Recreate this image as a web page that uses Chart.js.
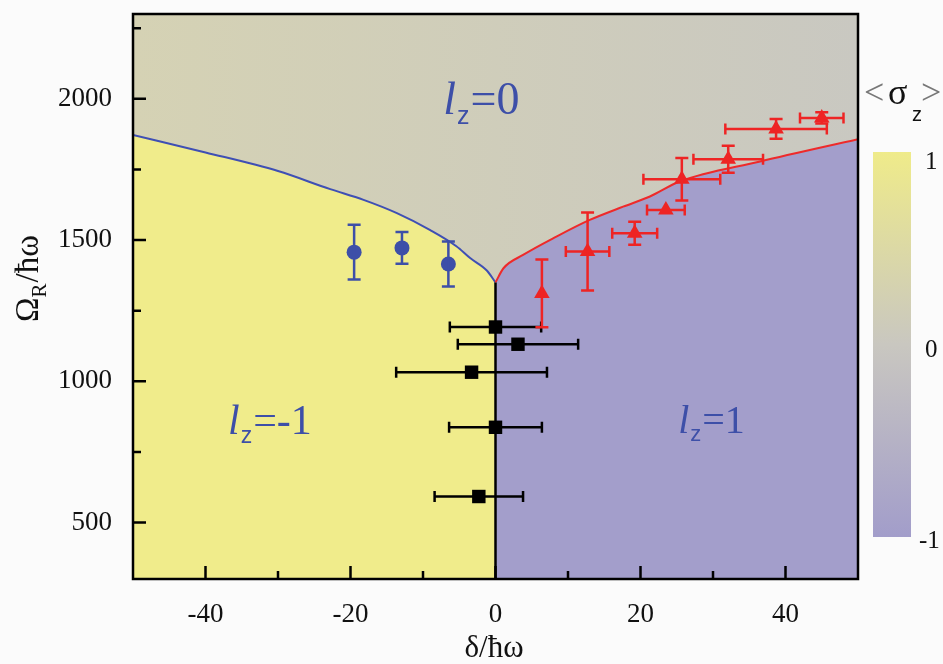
<!DOCTYPE html>
<html>
<head>
<meta charset="utf-8">
<script src="https://cdn.jsdelivr.net/npm/chart.js@4.4.1/dist/chart.umd.min.js"></script>
<style>
  html, body { margin: 0; padding: 0; background: #fbfbfb; }
  canvas { display: block; }
</style>
</head>
<body>
<canvas id="phaseChart" width="943" height="664"></canvas>
<script>
// ticks dos eixos
var xMajor = [-40, -20, 0, 20, 40];
var xMinor = [-30, -10, 10, 30];
var yMajor = [500, 1000, 1500, 2000];
var yMinor = [750, 1250, 1750, 2250];

// fronteira lz=-1 / lz=0 (curva azul)
var blueCurveX = [-50, -40, -30, -22.8, -18.2, -13.6, -9, -5.4, -3.5, -1.2, 0];
var blueCurveY = [1872, 1810, 1744, 1680, 1642, 1595, 1535, 1478, 1436, 1392, 1350];

// fronteira lz=1 / lz=0 (curva vermelha)
var redCurveX = [0, 1.1, 3.8, 8.4, 13, 17.6, 21.3, 25.4, 36.5, 50];
var redCurveY = [1350, 1400, 1447, 1512, 1571, 1618, 1654, 1707, 1778, 1857];

// linha vertical lz=-1 / lz=1
var zeroLineX = [0, 0];
var zeroLineY = [300, 1350];

// pontos experimentais
var blueX = [-19.5, -12.9, -6.5];
var blueY = [1457, 1472, 1415];
var blueYErr = [97, 56, 80];

var blackX = [0, 3.1, -3.3, 0, -2.3];
var blackY = [1192, 1131, 1032, 837, 592];
var blackXErr = [6.3, 8.3, 10.4, 6.4, 6.1];

var redX = [6.4, 12.7, 19.2, 23.5, 25.7, 32.1, 38.7, 45.0];
var redY = [1311, 1459, 1524, 1606, 1715, 1786, 1893, 1932];
var redXErr = [0, 3.0, 3.1, 2.6, 5.3, 4.8, 7.0, 3.0];
var redYErr = [120, 138, 41, 0, 75, 48, 35, 20];

// barra de cores
var cbLabels = ['1', '0', '-1'];

var SERIF = '"Liberation Serif", "DejaVu Serif", serif';
var BLUE = '#3d4fa8';
var RED = '#ee2424';

function pts(xs, ys) {
    return xs.map(function(x, i) { return { x: x, y: ys[i] }; });
}

// fundo da região lz=0
var bgPlugin = {
    id: 'bgPlugin',
    beforeDatasetsDraw: function(chart) {
        var a = chart.chartArea, c = chart.ctx;
        var g = c.createLinearGradient(a.left, a.top, a.right, a.top);
        g.addColorStop(0, '#d5d2b4');
        g.addColorStop(1, '#c9c8c1');
        c.save();
        c.fillStyle = g;
        c.fillRect(a.left, a.top, a.right - a.left, a.bottom - a.top);
        c.restore();
    }
};

// barras de erro
var errorBars = {
    id: 'errorBars',
    afterDatasetsDraw: function(chart) {
        var xs = chart.scales.x, ys = chart.scales.y, c = chart.ctx;
        chart.data.datasets.forEach(function(ds) {
            if (!ds.xErr && !ds.yErr) return;
            c.save();
            c.strokeStyle = ds.pointBackgroundColor;
            c.lineWidth = 2.5;
            ds.data.forEach(function(p, i) {
                var px = xs.getPixelForValue(p.x), py = ys.getPixelForValue(p.y);
                var ex = ds.xErr ? ds.xErr[i] : 0, ey = ds.yErr ? ds.yErr[i] : 0;
                var cap = 5.5;
                c.beginPath();
                if (ex) {
                    var l = xs.getPixelForValue(p.x - ex), r = xs.getPixelForValue(p.x + ex);
                    c.moveTo(l, py); c.lineTo(r, py);
                    c.moveTo(l, py - cap); c.lineTo(l, py + cap);
                    c.moveTo(r, py - cap); c.lineTo(r, py + cap);
                }
                if (ey) {
                    var t = ys.getPixelForValue(p.y + ey), b = ys.getPixelForValue(p.y - ey);
                    c.moveTo(px, t); c.lineTo(px, b);
                    c.moveTo(px - cap - 1, t); c.lineTo(px + cap + 1, t);
                    c.moveTo(px - cap - 1, b); c.lineTo(px + cap + 1, b);
                }
                c.stroke();
            });
            c.restore();
        });
    }
};

// moldura e ticks para dentro
var framePlugin = {
    id: 'framePlugin',
    afterDatasetsDraw: function(chart) {
        var a = chart.chartArea, c = chart.ctx;
        var xs = chart.scales.x, ys = chart.scales.y;
        c.save();
        c.strokeStyle = '#000';
        c.lineWidth = 2.5;
        c.beginPath();
        xMajor.forEach(function(v) { var p = xs.getPixelForValue(v); c.moveTo(p, a.bottom); c.lineTo(p, a.bottom - 13); });
        xMinor.forEach(function(v) { var p = xs.getPixelForValue(v); c.moveTo(p, a.bottom); c.lineTo(p, a.bottom - 8); });
        yMajor.forEach(function(v) { var p = ys.getPixelForValue(v); c.moveTo(a.left, p); c.lineTo(a.left + 13, p); });
        yMinor.forEach(function(v) { var p = ys.getPixelForValue(v); c.moveTo(a.left, p); c.lineTo(a.left + 8, p); });
        c.stroke();
        c.strokeRect(a.left, a.top, a.right - a.left, a.bottom - a.top);
        c.restore();
    }
};

// rótulos lz nas regiões
function drawLz(c, x, y, rest, lSize, restSize) {
    c.fillStyle = BLUE;
    c.textBaseline = 'alphabetic';
    c.textAlign = 'left';
    c.font = 'italic ' + lSize + 'px ' + SERIF;
    c.fillText('l', x, y);
    x += c.measureText('l').width + 1;
    c.font = Math.round(lSize * 0.55) + 'px "Liberation Sans", sans-serif';
    c.fillText('z', x, y + lSize * 0.22);
    x += c.measureText('z').width + 1;
    c.font = restSize + 'px ' + SERIF;
    c.fillText(rest, x, y);
}

var labelsPlugin = {
    id: 'labelsPlugin',
    afterDraw: function(chart) {
        var c = chart.ctx, xs = chart.scales.x, ys = chart.scales.y;
        var a = chart.chartArea;
        c.save();
        c.beginPath();
        c.rect(a.left, a.top, a.right - a.left, a.bottom - a.top);
        c.clip();
        drawLz(c, xs.getPixelForValue(-7.2), ys.getPixelForValue(1945), '=0', 46, 46);
        drawLz(c, xs.getPixelForValue(-36.9), ys.getPixelForValue(815), '=-1', 42, 42);
        drawLz(c, xs.getPixelForValue(25.2), ys.getPixelForValue(818), '=1', 40, 40);
        c.restore();

        // títulos dos eixos
        c.save();
        c.fillStyle = '#111';
        c.textBaseline = 'alphabetic';
        c.textAlign = 'center';
        c.font = '31px ' + SERIF;
        c.fillText('\u03b4/\u0127\u03c9', 494, 657);

        c.translate(38, 322);
        c.rotate(-Math.PI / 2);
        c.textAlign = 'left';
        c.font = '33px ' + SERIF;
        c.fillText('\u03a9', 0, 0);
        var w = c.measureText('\u03a9').width;
        c.font = '21px ' + SERIF;
        c.fillText('R', w, 8);
        var w2 = c.measureText('R').width;
        c.font = '33px ' + SERIF;
        c.fillText('/\u0127\u03c9', w + w2 + 1, 0);
        c.restore();

        // barra de cores
        var cx = 873, cw = 38, ct = 152, cb = 537;
        var g = c.createLinearGradient(0, ct, 0, cb);
        g.addColorStop(0, '#efeb8a');
        g.addColorStop(0.5, '#c9c7c0');
        g.addColorStop(1, '#a29dca');
        c.save();
        c.fillStyle = g;
        c.fillRect(cx, ct, cw, cb - ct);
        c.fillStyle = '#111';
        c.font = '25px ' + SERIF;
        c.textBaseline = 'middle';
        c.textAlign = 'left';
        c.fillText(cbLabels[0], 925, 162);
        c.fillText(cbLabels[1], 925, 350);
        c.fillText(cbLabels[2], 919, 541);
        c.font = '36px ' + SERIF;
        c.textBaseline = 'alphabetic';
        c.fillStyle = '#777';
        c.fillText('<', 864, 104);
        c.fillText('>', 921, 104);
        c.fillStyle = '#111';
        c.fillText('\u03c3', 888, 104);
        c.font = '20px "Liberation Sans", sans-serif';
        c.fillText('z', 912, 121);
        c.restore();
    }
};

var ctx = document.getElementById('phaseChart').getContext('2d');

var chart = new Chart(ctx, {
    type: 'line',
    data: {
        datasets: [
            {
                label: 'lz=-1',
                data: pts(blueCurveX, blueCurveY),
                borderColor: '#3f4fb4',
                backgroundColor: '#f0ec8b',
                borderWidth: 2,
                fill: 'start',
                pointRadius: 0,
                cubicInterpolationMode: 'monotone',
                order: 6
            },
            {
                label: 'lz=1',
                data: pts(redCurveX, redCurveY),
                borderColor: '#ee2a2a',
                backgroundColor: '#a39ecb',
                borderWidth: 2,
                fill: 'start',
                pointRadius: 0,
                cubicInterpolationMode: 'monotone',
                order: 5
            },
            {
                label: 'zero',
                data: pts(zeroLineX, zeroLineY),
                borderColor: '#000',
                borderWidth: 2.5,
                fill: false,
                pointRadius: 0,
                order: 4
            },
            {
                label: 'azul',
                data: pts(blueX, blueY),
                showLine: false,
                pointStyle: 'circle',
                pointRadius: 7.5,
                pointBackgroundColor: BLUE,
                pointBorderColor: BLUE,
                pointBorderWidth: 0,
                yErr: blueYErr,
                order: 3
            },
            {
                label: 'preto',
                data: pts(blackX, blackY),
                showLine: false,
                pointStyle: 'rect',
                pointRadius: 9.5,
                pointBackgroundColor: '#000',
                pointBorderColor: '#000',
                pointBorderWidth: 0,
                xErr: blackXErr,
                order: 2
            },
            {
                label: 'vermelho',
                data: pts(redX, redY),
                showLine: false,
                pointStyle: 'triangle',
                pointRadius: 9,
                pointBackgroundColor: RED,
                pointBorderColor: RED,
                pointBorderWidth: 0,
                xErr: redXErr,
                yErr: redYErr,
                order: 1
            }
        ]
    },
    options: {
        responsive: false,
        animation: false,
        layout: { padding: { top: 14, right: 85, left: 0, bottom: 0 } },
        plugins: {
            legend: { display: false },
            tooltip: { enabled: false }
        },
        scales: {
            x: {
                type: 'linear',
                min: -50,
                max: 50,
                grid: { display: false },
                border: { display: false },
                afterBuildTicks: function(s) { s.ticks = xMajor.map(function(v) { return { value: v }; }); },
                afterFit: function(s) { s.height = 85; s.paddingLeft = 0; s.paddingRight = 0; },
                ticks: {
                    color: '#111',
                    padding: 12,
                    font: { family: SERIF, size: 27 },
                    callback: function(v) { return String(v); }
                }
            },
            y: {
                type: 'linear',
                min: 300,
                max: 2300,
                grid: { display: false },
                border: { display: false },
                afterBuildTicks: function(s) { s.ticks = yMajor.map(function(v) { return { value: v }; }); },
                afterFit: function(s) { s.width = 133; s.paddingTop = 0; s.paddingBottom = 0; },
                ticks: {
                    color: '#111',
                    padding: 13,
                    font: { family: SERIF, size: 27 },
                    callback: function(v) { return String(v); }
                }
            }
        }
    },
    plugins: [bgPlugin, framePlugin, errorBars, labelsPlugin]
});
</script>
</body>
</html>
